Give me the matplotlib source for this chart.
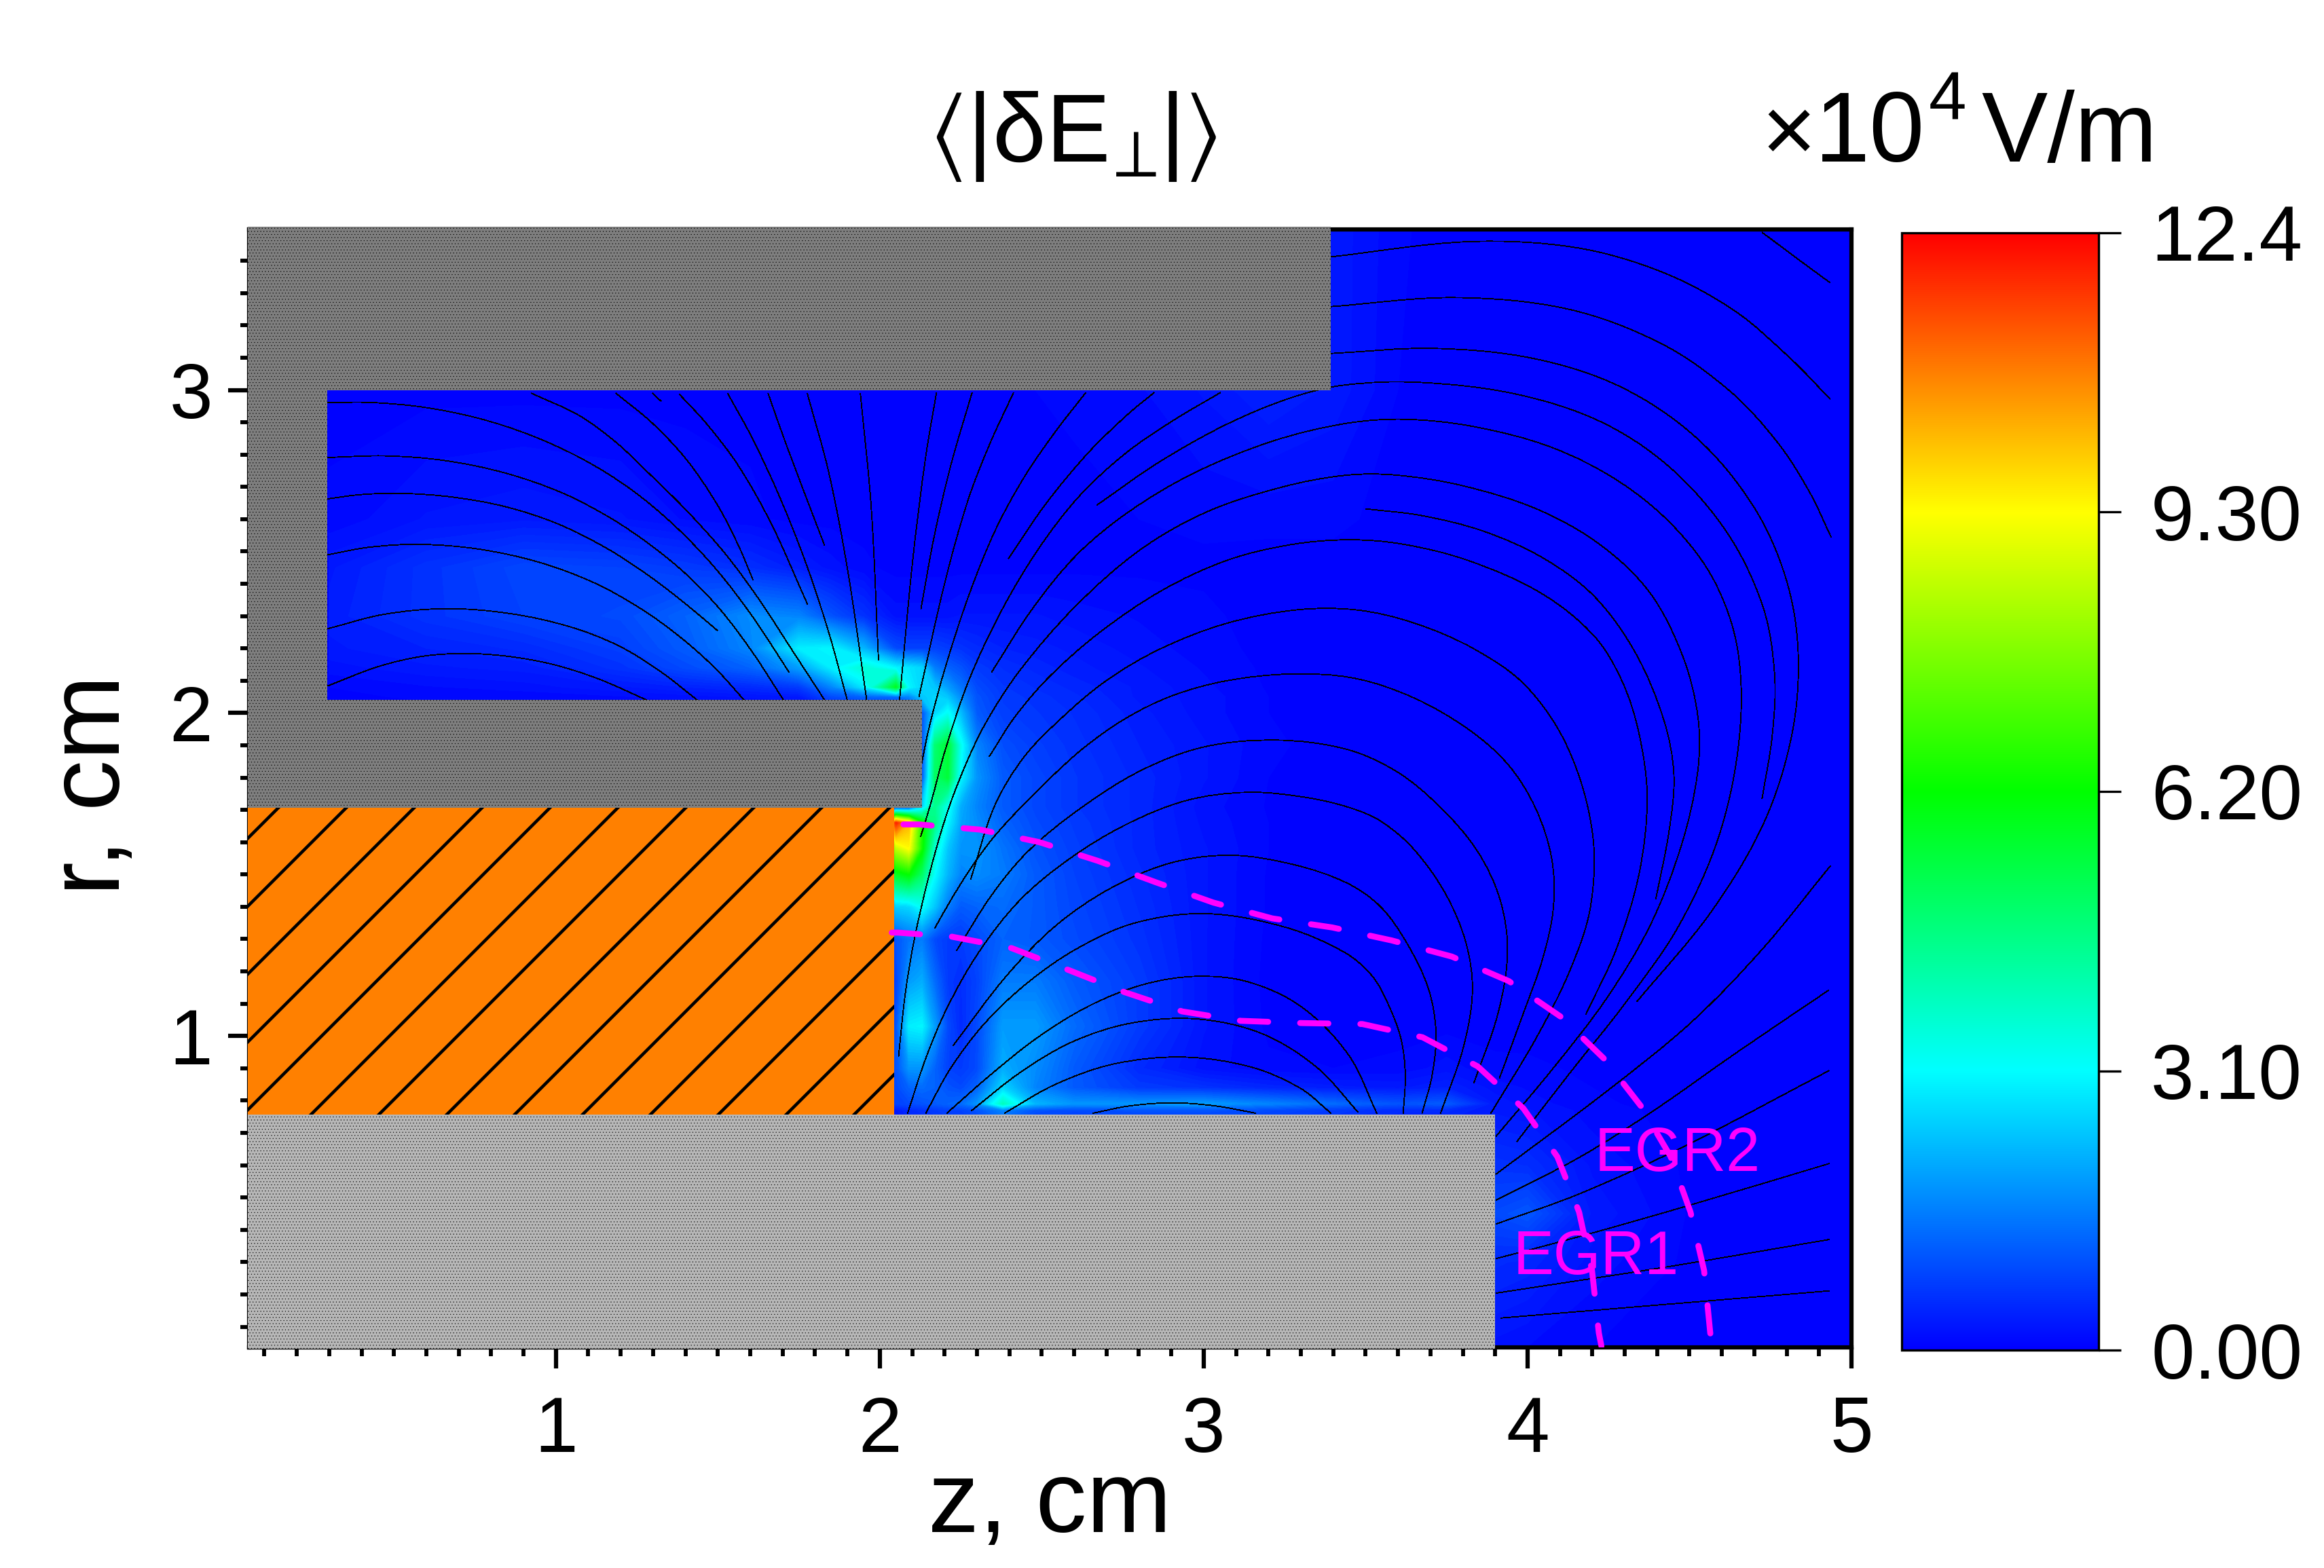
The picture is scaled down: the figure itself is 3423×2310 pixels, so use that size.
import numpy as np
import matplotlib
matplotlib.use("Agg")
import matplotlib.pyplot as plt
from matplotlib.colors import LinearSegmentedColormap, Normalize
from matplotlib.cm import ScalarMappable
from matplotlib.patches import Rectangle, PathPatch
from matplotlib.path import Path

plt.rcParams['font.family'] = ['Liberation Sans', 'DejaVu Sans']
plt.rcParams['mathtext.fontset'] = 'custom'
plt.rcParams['mathtext.rm'] = 'Liberation Sans'
plt.rcParams['mathtext.it'] = 'Liberation Sans'
plt.rcParams['mathtext.fallback'] = 'stix'

# ---------- data ----------
z_nodes = [0.30,0.60,0.90,1.20,1.40,1.60,1.75,1.85,1.95,2.05,2.09,2.13,2.17,2.21,2.25,
           2.30,2.38,2.48,2.60,2.80,3.00,3.20,3.40,3.60,3.75,3.90,4.00,4.20,4.50,5.00]
r_nodes = [0.03,0.30,0.45,0.60,0.77,0.79,0.84,0.90,1.03,1.17,1.30,1.40,1.50,1.58,1.66,1.71,
           1.80,1.90,2.00,2.05,2.08,2.14,2.20,2.30,2.45,2.60,3.00,3.51]
# |dE_perp| in 1e4 V/m, one row per r node, one column per z node
field = [
 [0]*25 + [.2,.15,.08,.03,0],
 [0]*25 + [.5,.45,.2,.06,.02],
 [0]*25 + [.9,1.05,.3,.07,.02],
 [0]*25 + [.6,.55,.22,.06,.02],
 [0]*9 + [.3,.5,.6,.7,.8,.8,1.0,1.6,1.0,.9,1.0,1.0,.9,.7,.5,.5,.3,.25,.12,.04,.01],
 [0]*9 + [.8,.9,1.0,1.1,1.2,1.3,1.8,3.9,2.2,1.8,1.8,1.9,1.6,1.3,1.0,1.1,.3,.2,.1,.03,.01],
 [0]*9 + [.9,1.2,1.3,1.2,1.0,.9,1.2,2.6,1.6,1.1,.7,.6,.45,.35,.3,.4,.2,.15,.08,.03,.01],
 [0]*9 + [1.0,1.8,1.8,1.2,.8,.7,.9,2.1,1.7,1.1,.5,.2,.1,.08,.1,.2,.1,.1,.06,.02,.01],
 [0]*9 + [1.0,2.9,3.0,1.9,.9,.5,.9,1.9,1.9,1.3,.7,.25,.06,.05,.05,.05,.05,.04,.03,.02,.01],
 [0]*9 + [.8,1.9,2.1,1.3,.7,.55,.8,1.5,1.5,1.1,.7,.25,.05,.04,.03,.03,.03,.03,.02,.01,.01],
 [0]*9 + [1.0,1.4,1.5,.9,.7,.7,.9,1.2,1.1,.9,.6,.25,.06,.03,.03,.03,.03,.03,.02,.01,.01],
 [0]*9 + [2.5,2.6,3.2,2.4,1.5,1.1,1.2,1.3,1.1,.85,.55,.25,.07,.03,.03,.03,.03,.02,.02,.01,.01],
 [0]*9 + [5.8,6.2,5.0,3.1,2.2,1.6,1.7,1.5,1.1,.8,.5,.25,.07,.03,.03,.03,.03,.02,.02,.01,.01],
 [0]*9 + [8.5,9.3,6.4,3.6,2.4,1.8,1.8,1.4,1.0,.75,.45,.25,.08,.03,.03,.03,.03,.02,.02,.01,.01],
 [0]*9 + [12.0,10.2,6.5,4.6,3.0,2.0,1.7,1.2,.9,.7,.45,.22,.08,.03,.03,.03,.03,.02,.02,.01,.01],
 [0]*9 + [.3,.5,2.5,4.5,3.3,2.1,1.6,1.1,.85,.65,.45,.2,.07,.03,.03,.03,.03,.02,.02,.01,.01],
 [0]*11 + [.9,5.0,5.5,3.0,1.8,1.1,.85,.65,.45,.25,.08,.04,.03,.03,.03,.02,.02,.01,.01],
 [0]*11 + [.7,4.8,5.6,3.3,1.6,.95,.75,.6,.4,.25,.1,.04,.03,.03,.03,.02,.02,.01,.01],
 [0]*11 + [1.0,2.6,3.2,2.3,1.1,.75,.65,.55,.35,.2,.08,.03,.03,.03,.03,.02,.02,.01,.01],
 [.05,.1,.1,.15,.2,.25,.3,.9,1.2,1.3,1.6,2.4,2.6,2.4,1.7,1.0,.7,.6,.5,.3,.2,.08,.03,.03,.03,.03,.02,.02,.01,.01],
 [.08,.15,.2,.3,.4,.5,.7,1.6,2.8,5.8,3.0,2.6,2.4,1.9,1.4,.9,.65,.55,.45,.3,.18,.07,.03,.03,.03,.03,.02,.02,.01,.01],
 [.2,.3,.35,.6,.9,1.2,1.9,2.9,3.6,3.0,2.8,2.6,1.5,1.2,1.0,.7,.55,.45,.35,.25,.15,.06,.03,.03,.03,.03,.02,.02,.01,.01],
 [.3,.4,.5,.75,1.1,1.6,2.9,3.0,2.2,.9,.8,.8,.8,.7,.6,.5,.4,.35,.3,.2,.12,.05,.03,.03,.03,.03,.02,.02,.01,.01],
 [.35,.6,.8,.9,1.2,1.7,1.6,1.0,.6,.2,.2,.2,.2,.2,.25,.25,.25,.25,.2,.15,.1,.04,.03,.03,.03,.03,.02,.02,.01,.01],
 [.3,.6,.85,.8,.7,.55,.35,.2,.1,.05,.05,.05,.05,.05,.05,.05,.05,.05,.06,.06,.06,.05,.05,.03,.03,.02,.02,.02,.01,.01],
 [.1,.25,.3,.25,.15,.1,.05,.05,.05,.05,.05,.05,.05,.05,.05,.05,.05,.05,.05,.08,.1,.1,.1,.05,.03,.02,.02,.02,.01,.01],
 [.05,.05,.05,.05,.05,.05,.05,.05,.05,.05,.05,.05,.05,.05,.05,.05,.05,.08,.1,.15,.25,.4,.3,.08,.03,.02,.02,.02,.01,.01],
 [0]*22 + [.3,.1,.03,.02,.02,.02,.01,.01],
]

cbar_ticks = [0.0, 3.1, 6.2, 9.3, 12.4]
cbar_labels = ['0.00', '3.10', '6.20', '9.30', '12.4']

# geometry of the electrodes (z, cm / r, cm)
z_min, z_max = 0.053, 5.0
r_min, r_max = 0.036, 3.497
block_left, block_bottom, block_top = 0.049, 0.031, 3.505
wall_z, outer_z, outer_r = 0.295, 3.393, 3.0
anode_r_low, anode_r_high, anode_z = 1.706, 2.04, 2.13
ceramic_z, ceramic_r = 2.045, 0.757
inner_z, inner_r = 3.90, 0.757

# field lines as (z list, r list)
field_lines = [
 ([.296,.456,.59,.724,.857,.991,1.125,1.285],[2.084,2.154,2.18,2.189,2.178,2.154,2.115,2.038]),
 ([.296,.456,.67,.857,1.058,1.192,1.325,1.439],[2.261,2.315,2.331,2.315,2.269,2.217,2.133,2.038]),
 ([.296,.416,.577,.764,.951,1.125,1.272,1.392,1.499,1.583],[2.49,2.518,2.528,2.514,2.472,2.409,2.322,2.231,2.14,2.038]),
 ([.296,.389,.523,.683,.844,1.004,1.165,1.298,1.405,1.499],[2.663,2.679,2.684,2.672,2.644,2.595,2.511,2.42,2.336,2.255]),
 ([.296,.47,.657,.844,1.031,1.178,1.298,1.405,1.512,1.606,1.704],[2.791,2.803,2.787,2.749,2.686,2.602,2.518,2.434,2.322,2.196,2.038]),
 ([.296,.416,.59,.764,.924,1.085,1.232,1.365,1.499,1.606,1.72],[2.961,2.966,2.952,2.917,2.864,2.791,2.7,2.588,2.448,2.308,2.126]),
 ([.924,1.085,1.192,1.272,1.405,1.526,1.633,1.726,1.831],[2.99,2.931,2.833,2.756,2.63,2.497,2.35,2.196,2.038]),
 ([1.185,1.298,1.405,1.512,1.566,1.609],[2.99,2.903,2.798,2.63,2.518,2.411]),
 ([1.298,1.325],[2.99,2.965]),
 ([1.381,1.459,1.566,1.66,1.777],[2.987,2.91,2.77,2.616,2.336]),
 ([1.53,1.606,1.686,1.78,1.847,1.9],[2.99,2.861,2.686,2.455,2.245,2.038]),
 ([1.655,1.713,1.829],[2.99,2.826,2.52]),
 ([1.776,1.847,1.9,1.96],[2.99,2.756,2.476,2.038]),
 ([1.94,1.974,1.996],[2.99,2.63,2.164]),
 ([2.175,2.145,2.1,2.061],[2.992,2.83,2.508,2.039]),
 ([2.285,2.215,2.165,2.127],[2.992,2.769,2.548,2.322]),
 ([2.413,2.335,2.275,2.205,2.121],[2.992,2.83,2.679,2.448,2.051]),
 ([2.636,2.546,2.446,2.355,2.275,2.195,2.145,2.126],[2.992,2.88,2.739,2.578,2.377,2.126,1.937,1.828]),
 ([3.052,2.907,2.757,2.606,2.486,2.375,2.267,2.196,2.154,2.126],[2.992,2.91,2.81,2.679,2.508,2.327,2.105,1.88,1.692,1.617]),
 ([2.847,2.787,2.646,2.506,2.397],[2.992,2.945,2.82,2.649,2.478]),
 ([2.086,2.142,2.196,2.299,2.428,2.571,2.758,2.945,3.142,3.32,3.477,3.535,3.656,3.756,3.821,3.841,3.816,3.731],
  [.761,.942,1.073,1.264,1.436,1.542,1.664,1.744,1.765,1.744,1.702,1.678,1.592,1.442,1.281,1.15,.969,.76]),
 ([2.237,2.358,2.428,2.618,2.805,2.992,3.217,3.477,3.585,3.736,3.856,3.926,3.95,3.926,3.834],
  [1.264,1.461,1.558,1.711,1.833,1.908,1.931,1.894,1.834,1.713,1.582,1.422,1.271,1.08,.854]),
 ([2.226,2.402,2.533,2.711,2.898,3.086,3.273,3.477,3.535,3.636,3.706,3.726,3.711,3.674],
  [.97,1.214,1.345,1.467,1.552,1.572,1.542,1.467,1.422,1.291,1.14,1.02,.869,.76]),
 ([2.142,2.206,2.318,2.449,2.608,2.777,2.992,3.273,3.477,3.515,3.575,3.616,3.629,3.616],
  [.761,.895,1.045,1.167,1.28,1.359,1.403,1.35,1.242,1.2,1.1,.989,.889,.76]),
 ([2.207,2.337,2.477,2.646,2.805,2.983,3.133,3.301,3.477,3.535],[.761,.876,.998,1.101,1.167,1.198,1.176,1.12,.942,.76]),
 ([2.282,2.43,2.59,2.758,2.983,3.179,3.367,3.477],[.768,.895,.989,1.05,1.068,1.026,.914,.764]),
 ([2.385,2.533,2.711,2.936,3.161,3.32,3.393],[.761,.857,.923,.951,.914,.839,.761]),
 ([2.658,2.758,2.908,3.039,3.161],[.761,.787,.799,.787,.761]),
 ([2.17,2.212,2.281,2.345,2.428,2.533,2.618,2.758,2.899,3.053,3.278,3.477,3.636,3.851,3.937,4.037,4.087,4.087,4.057,3.987,3.913],
  [1.334,1.411,1.523,1.614,1.702,1.805,1.889,1.992,2.058,2.105,2.131,2.116,2.066,1.937,1.854,1.713,1.542,1.401,1.241,1.08,.869]),
 ([2.281,2.352,2.428,2.571,2.683,2.857,3.057,3.308,3.477,3.636,3.856,3.997,4.137,4.227,4.207,4.137,4.037,3.886],
  [1.486,1.748,1.856,1.992,2.105,2.196,2.292,2.329,2.327,2.292,2.201,2.096,1.934,1.603,1.401,1.2,.999,.76]),
 ([2.338,2.412,2.508,2.666,2.867,3.078,3.258,3.477,3.585,3.816,4.057,4.237,4.288,4.353,4.383,4.358,4.278,4.18],
  [1.865,1.992,2.105,2.247,2.392,2.483,2.53,2.541,2.533,2.483,2.387,2.227,2.116,1.937,1.753,1.502,1.251,1.067]),
 ([2.058,2.079,2.1,2.149,2.205,2.253,2.324,2.398,2.606,2.807,2.997,3.248,3.477,3.535,3.816,4.037,4.237,4.388,4.498,4.535,4.538,4.488,4.388,4.257,4.077,3.903],
  [.937,1.167,1.264,1.509,1.685,1.825,1.965,2.105,2.347,2.523,2.629,2.714,2.741,2.746,2.714,2.639,2.528,2.387,2.186,1.937,1.874,1.572,1.351,1.11,.899,.69]),
 ([3.5,3.656,3.866,4.057,4.217,4.338,4.443,4.458,4.448,4.396],[2.632,2.621,2.573,2.488,2.367,2.217,1.937,1.824,1.653,1.424]),
 ([2.345,2.466,2.606,2.757,2.957,3.208,3.477,3.585,3.836,4.087,4.288,4.468,4.588,4.669,4.671,4.603,4.488,4.288,4.137,3.967],
  [2.126,2.327,2.508,2.618,2.749,2.855,2.907,2.915,2.9,2.83,2.729,2.578,2.418,2.207,1.937,1.602,1.341,1.08,.899,.673]),
 ([2.671,2.857,3.057,3.305,3.392,3.636,3.987,4.237,4.438,4.639,4.749,4.769,4.764,4.724],
  [2.644,2.779,2.9,2.992,3.013,3.041,3.0,2.91,2.789,2.558,2.327,2.106,1.937,1.735]),
 ([3.392,3.706,4.037,4.288,4.538,4.719,4.809,4.849,4.834,4.749,4.588,4.338],
  [3.113,3.148,3.106,3.031,2.87,2.639,2.418,2.206,1.937,1.663,1.381,1.107]),
 ([3.392,3.786,4.137,4.438,4.639,4.789,4.879,4.937],[3.258,3.307,3.272,3.151,3.0,2.83,2.679,2.545]),
 ([3.392,3.866,4.137,4.438,4.639,4.839,4.934],[3.412,3.483,3.458,3.367,3.272,3.071,2.972]),
 ([4.724,4.839,4.934],[3.488,3.402,3.332]),
 ([4.935,4.739,4.498,4.298,3.902],[1.527,1.271,1.02,.869,.572]),
 ([4.93,4.639,4.378,4.187,3.903],[1.142,.949,.758,.628,.492]),
 ([4.931,4.435,4.154,3.903],[.893,.624,.503,.418]),
 ([4.931,4.435,4.154,3.903],[.605,.455,.376,.311]),
 ([4.931,4.435,3.903],[.37,.286,.204]),
 ([4.931,3.918],[.211,.127]),
]

egr2_z = [2.073,2.121,2.309,2.493,2.674,2.852,3.03,3.212,3.397,3.58,3.766,3.942,4.102,4.237,4.35,4.441,4.503,4.545,4.564,4.57]
egr2_r = [1.655,1.655,1.639,1.6,1.542,1.476,1.413,1.364,1.336,1.296,1.246,1.17,1.06,.929,.783,.628,.455,.274,.081,.04]
egr1_z = [2.037,2.056,2.22,2.407,2.586,2.755,2.934,3.115,3.304,3.49,3.676,3.846,3.987,4.092,4.159,4.199,4.22,4.228]
egr1_r = [1.32,1.32,1.308,1.272,1.203,1.136,1.076,1.047,1.04,1.037,.996,.906,.776,.626,.455,.274,.081,.04]

# ---------- figure ----------
W, H = 3423, 2310
DPI = 300
fig = plt.figure(figsize=(W / DPI, H / DPI), dpi=DPI, facecolor='white')

def box(x0, y0, x1, y1):
    return [x0 / W, 1 - y1 / H, (x1 - x0) / W, (y1 - y0) / H]

def fx(x):
    return x / W

def fy(y):
    return 1 - y / H

ax = fig.add_axes(box(367, 338, 2727, 1985), facecolor='#0000ff')
cmap = LinearSegmentedColormap.from_list(
    'rainbow5', ['#0000ff', '#00ffff', '#00ff00', '#ffff00', '#ff0000'], N=512)
norm = Normalize(0, 12.4)

Z, R = np.meshgrid(z_nodes, r_nodes)
F = np.array(field, dtype=float)
ax.contourf(Z, R, F, levels=np.linspace(0, 12.4, 156), cmap=cmap, norm=norm,
            extend='both', antialiased=False, zorder=1)


def smooth(z, r):
    """Path through the read points (reading noise evened out), drawn with Bezier segments."""
    p = np.column_stack([z, r]).astype(float)
    if len(p) > 3:
        q = p.copy()
        q[1:-1] = 0.25 * p[:-2] + 0.5 * p[1:-1] + 0.25 * p[2:]
        p = q
    verts = [p[0]]
    codes = [Path.MOVETO]
    for i in range(len(p) - 1):
        a = p[max(i - 1, 0)]
        b = p[i]
        c = p[i + 1]
        d = p[min(i + 2, len(p) - 1)]
        seg = np.hypot(*(c - b))
        t1 = (c - a) / max(np.hypot(*(c - a)), 1e-9) * seg / 3
        t2 = (d - b) / max(np.hypot(*(d - b)), 1e-9) * seg / 3
        verts += [b + t1, c - t2, c]
        codes += [Path.CURVE4] * 3
    return Path(verts, codes)


for lz, lr in field_lines:
    ax.add_patch(PathPatch(smooth(lz, lr), facecolor='none', edgecolor='black',
                           lw=0.2, antialiased=False, zorder=1.5, capstyle='butt'))


class Block(Rectangle):
    """Rectangle whose hatch has its own line width."""
    hatch_lw = 0.1

    def draw(self, renderer):
        with plt.rc_context({'hatch.linewidth': self.hatch_lw}):
            if hasattr(self, '_hatch_linewidth'):
                self._hatch_linewidth = self.hatch_lw
            super().draw(renderer)


dot = '.' * 11
def block(x0, y0, x1, y1, color, hatch, hlw, zo=3):
    pt = Block((x0, y0), x1 - x0, y1 - y0, facecolor=color, edgecolor='black',
               hatch=hatch, lw=0, zorder=zo, clip_on=False)
    pt.hatch_lw = hlw
    ax.add_patch(pt)
    return pt

dark, light = '#7e7e7e', '#b6b6b6'
block(block_left, outer_r, outer_z, block_top, dark, dot, 0.1)
block(block_left, anode_r_high, wall_z, outer_r, dark, dot, 0.1)
block(block_left, anode_r_low, anode_z, anode_r_high, dark, dot, 0.1)
block(block_left, block_bottom, inner_z, inner_r, light, dot, 0.1)
block(block_left, ceramic_r, ceramic_z, anode_r_low, '#ff8000', '/', 1.1)

# EGR layers
dash_style = (0, (10.0 / 2.1, 11.3 / 2.1))
for ez, er in ((egr2_z, egr2_r), (egr1_z, egr1_r)):
    ax.plot(ez, er, color='#ff00ff', lw=2.1, ls=dash_style, dash_capstyle='round', zorder=4,
            clip_on=True)
ax.text(4.462, 0.582, 'EGR2', color='#ff00ff', fontsize=21.5, ha='center', va='baseline', zorder=5)
ax.text(4.212, 0.262, 'EGR1', color='#ff00ff', fontsize=21.5, ha='center', va='baseline', zorder=5)

ax.set_xlim(z_min, z_max)
ax.set_ylim(r_min, r_max)
ax.set_xticks([1, 2, 3, 4, 5])
ax.set_yticks([1, 2, 3])
ax.set_xticks(np.arange(0.1, 5.0, 0.1), minor=True)
ax.set_yticks(np.arange(0.1, 3.5, 0.1), minor=True)
ax.tick_params(which='major', length=7.5, width=1.5, labelsize=27.5, direction='out')
ax.tick_params(which='minor', length=3.2, width=1.4, direction='out')
ax.tick_params(axis='x', which='major', pad=9.5)
ax.tick_params(axis='y', which='major', pad=5.5)
for sp in ax.spines.values():
    sp.set_linewidth(1.5)
    sp.set_zorder(2.5)

# colorbar
cax = fig.add_axes(box(2801, 343, 3091, 1989))
cb = fig.colorbar(ScalarMappable(norm=norm, cmap=cmap), cax=cax, ticks=cbar_ticks)
cb.ax.set_yticklabels(cbar_labels)
cb.ax.tick_params(length=8, width=0.8, labelsize=27.5, pad=10.5)
cb.outline.set_linewidth(0.8)

# texts
fig.text(fx(1546), fy(2218), 'z, cm', fontsize=36, ha='center', va='center')
fig.text(fx(137), fy(1157), 'r, cm', fontsize=36, rotation=90, ha='center', va='center')
fig.text(fx(1580), fy(238), r'$\langle|\delta\mathrm{E}_{\!\perp}\!|\rangle$', fontsize=34,
         ha='center', va='baseline')
fig.text(fx(2594), fy(238), '\u00d7', fontsize=33, ha='left', va='baseline')
fig.text(fx(2673), fy(238), '10', fontsize=35, ha='left', va='baseline')
fig.text(fx(2841), fy(177), '4', fontsize=24, ha='left', va='baseline')
fig.text(fx(2918), fy(238), 'V/m', fontsize=35, ha='left', va='baseline')

fig.savefig('out.png', dpi=DPI, facecolor='white')
